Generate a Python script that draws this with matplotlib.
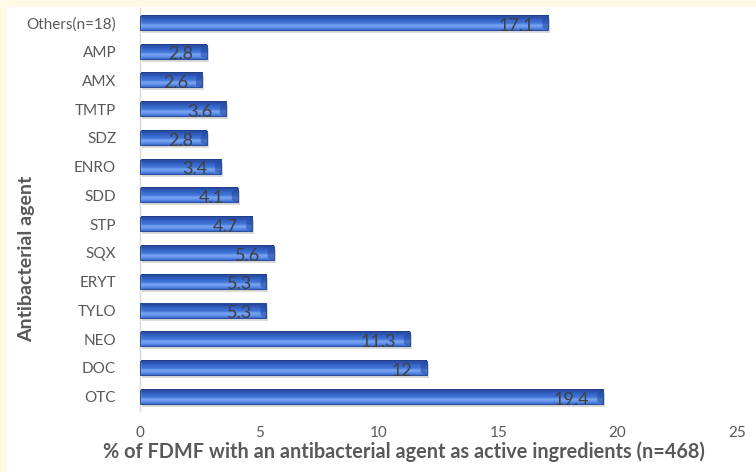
import numpy as np
import matplotlib.pyplot as plt
import matplotlib.transforms as mtransforms
from matplotlib.colors import LinearSegmentedColormap

agents = ['OTC', 'DOC', 'NEO', 'TYLO', 'ERYT', 'SQX', 'STP', 'SDD', 'ENRO',
          'SDZ', 'TMTP', 'AMX', 'AMP', 'Others(n=18)']
values = [19.4, 12, 11.3, 5.3, 5.3, 5.6, 4.7, 4.1, 3.4, 2.8, 3.6, 2.6, 2.8, 17.1]
value_labels = ['19.4', '12', '11.3', '5.3', '5.3', '5.6', '4.7', '4.1', '3.4',
                '2.8', '3.6', '2.6', '2.8', '17.1']

plt.rcParams['font.family'] = ['Lato', 'DejaVu Sans']

fig = plt.figure(figsize=(7.56, 4.72), dpi=100)
fig.patch.set_facecolor('white')
# cream strip along the left and top edges
fig.patches.append(plt.Rectangle((0, 0), 7 / 756, 1, transform=fig.transFigure,
                                 facecolor='#FFF9E6', edgecolor='none', zorder=-1))
fig.patches.append(plt.Rectangle((0, 1 - 7 / 472), 1, 7 / 472, transform=fig.transFigure,
                                 facecolor='#FFF9E6', edgecolor='none', zorder=-1))

ax = fig.add_axes([0.185, 0.129, 0.790, 0.853])

y = np.arange(len(agents))
h = 0.49

# glossy vertical gradient for the bars (top -> bottom)
cmap = LinearSegmentedColormap.from_list('gloss', [
    (0.0, '#3a6cd2'), (0.18, '#6796ee'), (0.32, '#78a5f2'), (0.45, '#4478da'),
    (0.75, '#2f5dc0'), (1.0, '#1d3b86')])
grad = np.linspace(0, 1, 64).reshape(-1, 1)

shadow_tf = mtransforms.offset_copy(ax.transData, fig=fig, x=2, y=-3, units='dots')
for yi, v in zip(y, values):
    ax.add_patch(plt.Rectangle((0, yi - h / 2), v, h, transform=shadow_tf,
                               facecolor='#9a9a9a', edgecolor='none', alpha=0.35, zorder=1))
    ax.imshow(grad, cmap=cmap, aspect='auto', extent=[0, v, yi + h / 2, yi - h / 2],
              origin='upper', zorder=2, interpolation='bilinear')
    ax.add_patch(plt.Rectangle((0, yi - h / 2), v, h, facecolor='none',
                               edgecolor='#2c4f9e', linewidth=0.8, zorder=3))
    # bevel at the bar end
    ax.add_patch(plt.Polygon([(v, yi + h / 2), (v - 0.25, yi + h / 2 - 0.12),
                              (v - 0.25, yi - h / 2 + 0.08), (v, yi - h / 2)],
                             closed=True, transform=ax.transData,
                             facecolor='#24479a', edgecolor='none', alpha=0.55, zorder=3))

for yi, v, lab in zip(y, values, value_labels):
    ax.annotate(lab, xy=(v, yi), xytext=(-10, -2), textcoords='offset points',
                ha='right', va='center', fontsize=13, color='#404040', zorder=4)

ax.set_xlim(0, 25)
ax.set_ylim(-0.5, len(agents) - 0.5)
ax.set_xticks([0, 5, 10, 15, 20, 25])
ax.set_yticks(y)
ax.set_yticklabels(agents)
ax.tick_params(axis='both', length=0, labelsize=11, colors='#595959')
ax.tick_params(axis='y', pad=17)
ax.tick_params(axis='x', pad=11)
for s in ['top', 'right', 'bottom']:
    ax.spines[s].set_visible(False)
ax.spines['left'].set_color('#d9d9d9')
ax.spines['left'].set_linewidth(1.0)

fig.text(404 / 756, 1 - 452 / 472,
         '% of FDMF with an antibacterial agent as active ingredients (n=468)',
         ha='center', va='center', fontsize=14.3, fontweight='bold', color='#595959')
fig.text(27 / 756, 1 - 259 / 472, 'Antibacterial agent', rotation=90,
         ha='center', va='center', fontsize=14, fontweight='bold', color='#595959')

fig.savefig('out.png', dpi=100)
